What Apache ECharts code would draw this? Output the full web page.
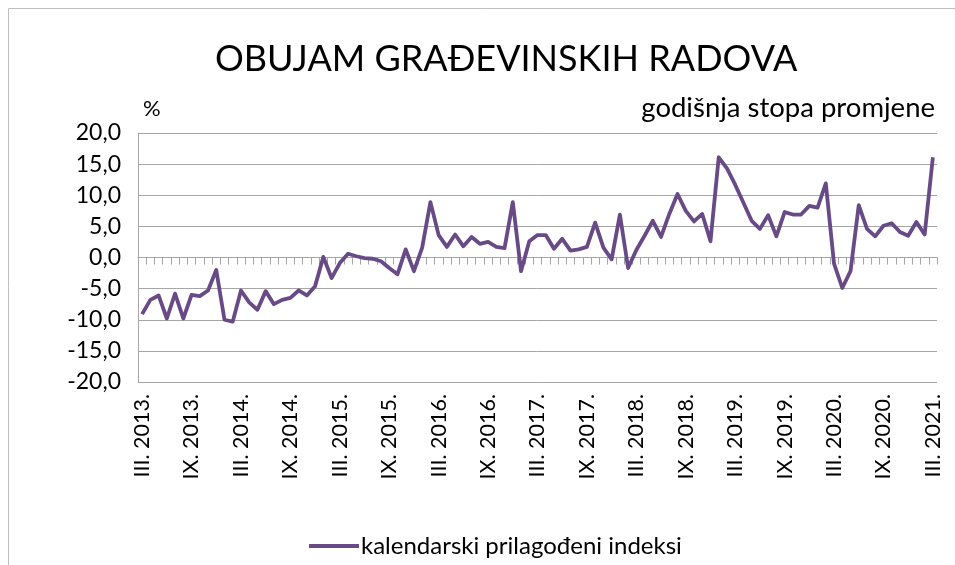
<!DOCTYPE html>
<html>
<head>
<meta charset="utf-8">
<script src="https://cdn.jsdelivr.net/npm/echarts@6/dist/echarts.min.js"></script>
<style>
  html, body { margin: 0; padding: 0; background: #fff; }
  #chart { width: 955px; height: 565px; }
</style>
</head>
<body>
<div id="chart"></div>
<script>
// Monthly series, March 2013 - March 2021
const romanMonths = ['I', 'II', 'III', 'IV', 'V', 'VI', 'VII', 'VIII', 'IX', 'X', 'XI', 'XII'];
const startYear = 2013, startMonth = 2, monthCount = 97;

const categories = [];
for (let k = 0; k < monthCount; k++) {
  const m = (startMonth + k) % 12;
  const y = startYear + Math.floor((startMonth + k) / 12);
  categories.push(romanMonths[m] + '. ' + y + '.');
}

// kalendarski prilagođeni indeksi, godišnja stopa promjene (%)
const values = [
  -9.1, -6.8, -6.1, -9.8, -5.8, -9.8, -6.0, -6.2, -5.3, -2.0,
  -10.0, -10.3, -5.3, -7.2, -8.4, -5.4, -7.5, -6.8, -6.5, -5.3,
  -6.1, -4.6, 0.1, -3.3, -0.9, 0.6, 0.2, -0.1, -0.2, -0.6,
  -1.7, -2.7, 1.3, -2.2, 1.6, 8.9, 3.6, 1.7, 3.7, 1.8,
  3.3, 2.2, 2.5, 1.7, 1.5, 8.9, -2.2, 2.6, 3.6, 3.6,
  1.4, 3.0, 1.1, 1.3, 1.7, 5.6, 1.6, -0.3, 6.9, -1.7,
  1.2, 3.5, 5.9, 3.3, 7.0, 10.2, 7.5, 5.8, 7.0, 2.6,
  16.1, 14.3, 11.7, 8.8, 5.9, 4.6, 6.8, 3.4, 7.3, 6.9,
  6.9, 8.3, 8.0, 11.9, -1.0, -4.9, -2.2, 8.4, 4.6, 3.4,
  5.1, 5.5, 4.1, 3.5, 5.7, 3.7, 16.1
];

const yTicks = { min: -20, max: 20, step: 5 };

const FONT = 'Lato, "Open Sans", sans-serif';
const chart = echarts.init(document.getElementById('chart'), null, { renderer: 'canvas' });

chart.setOption({
  animation: false,
  backgroundColor: '#ffffff',
  textStyle: { fontFamily: FONT, color: '#000' },
  graphic: [
    { type: 'rect', shape: { x: 8.5, y: 8.5, width: 1000, height: 600 },
      style: { fill: 'none', stroke: '#bfbfbf', lineWidth: 1 }, silent: true },
    { type: 'text', left: 215, top: 41,
      style: { text: 'OBUJAM GRAĐEVINSKIH RADOVA', font: '36px ' + FONT, fill: '#000' } },
    { type: 'text', left: 143, top: 98,
      style: { text: '%', font: '22px ' + FONT, fill: '#000' } },
    { type: 'text', right: 20, top: 94,
      style: { text: 'godišnja stopa promjene', font: '27.5px ' + FONT, fill: '#000' } }
  ],
  grid: { left: 138, right: 18, top: 133, bottom: 183, containLabel: false },
  legend: {
    data: ['kalendarski prilagođeni indeksi'],
    left: 304, top: 529,
    icon: 'rect', itemWidth: 50, itemHeight: 4, itemGap: 6,
    textStyle: { fontFamily: FONT, fontSize: 24, color: '#000', padding: [0, 0, 0, -3] }
  },
  xAxis: [
    {
      type: 'category', data: categories, boundaryGap: true,
      axisLine: { onZero: true, lineStyle: { color: '#a6a6a6', width: 1 } },
      axisTick: { show: true, interval: 0, length: 7, lineStyle: { color: '#a6a6a6' } },
      axisLabel: { show: false },
      splitLine: { show: false }
    },
    {
      type: 'category', data: categories, boundaryGap: true, position: 'bottom',
      axisLine: { show: false, onZero: false },
      axisTick: { show: false },
      axisLabel: { show: true, interval: 5, rotate: 90, margin: 12,
        fontFamily: FONT, fontSize: 21.5, color: '#000' },
      splitLine: { show: false }
    }
  ],
  yAxis: {
    type: 'value', min: yTicks.min, max: yTicks.max, interval: yTicks.step,
    axisLine: { show: true, lineStyle: { color: '#a6a6a6', width: 1 } },
    axisTick: { show: false },
    axisLabel: { fontFamily: FONT, fontSize: 23, color: '#000', margin: 17,
      formatter: v => v.toFixed(1).replace('.', ',') },
    splitLine: { show: true, lineStyle: { color: '#a6a6a6', width: 1 } }
  },
  series: [{
    name: 'kalendarski prilagođeni indeksi',
    type: 'line', xAxisIndex: 0, data: values,
    symbol: 'none', smooth: false,
    lineStyle: { color: '#674a86', width: 3.8, join: 'round' },
    itemStyle: { color: '#674a86' }
  }]
});
</script>
</body>
</html>
